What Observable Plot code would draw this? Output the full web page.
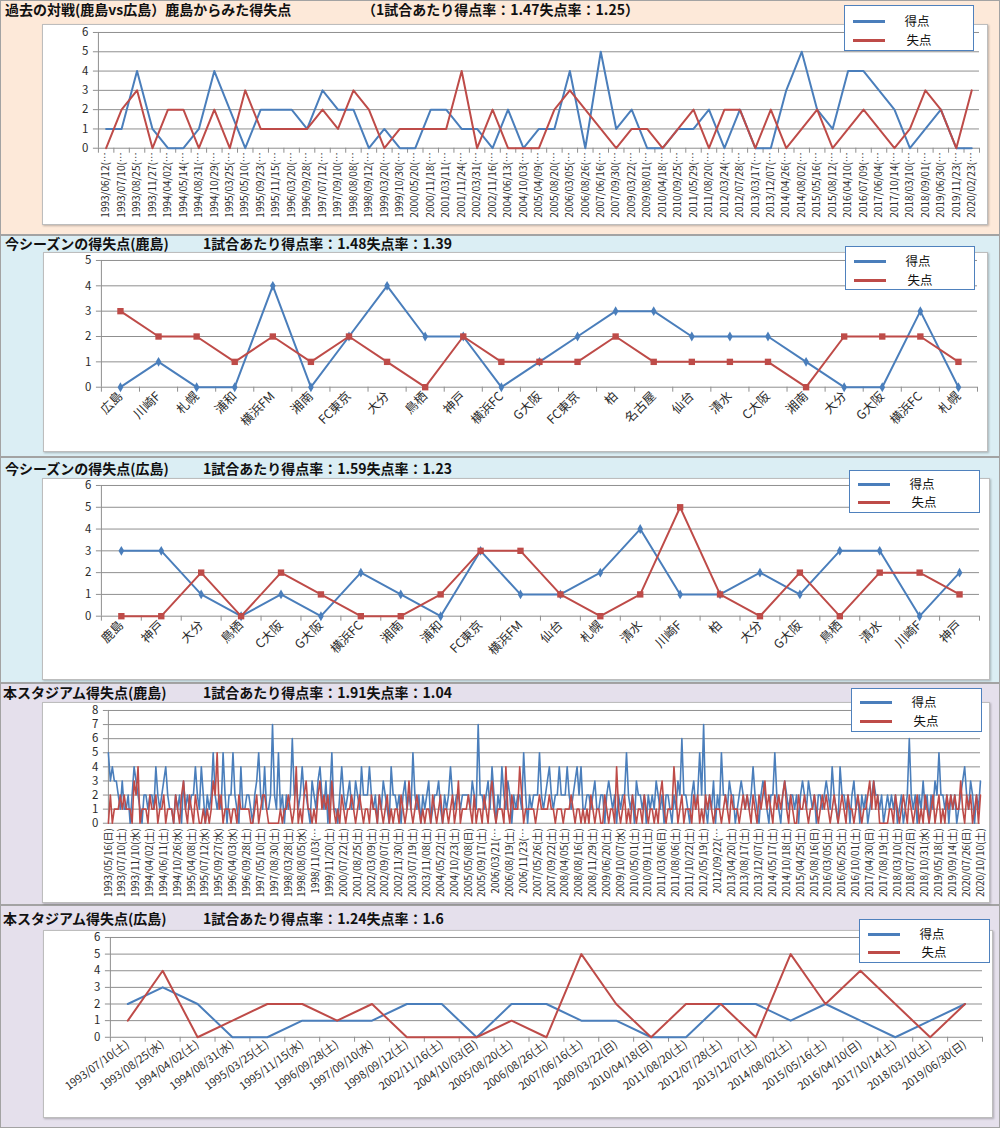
<!DOCTYPE html>
<html><head><meta charset="utf-8">
<script src="https://cdn.jsdelivr.net/npm/d3@7"></script>
<script src="https://cdn.jsdelivr.net/npm/@observablehq/plot@0.6"></script>
<style>
body{margin:0;width:1000px;height:1128px;position:relative;font-family:"Noto Sans CJK JP","Noto Sans",sans-serif;background:#fff;overflow:hidden}
.panel{position:absolute;left:0;width:1000px;box-sizing:border-box;border:1px solid #a3a3a3}
.title{position:absolute;font-weight:bold;font-size:14px;line-height:14px;white-space:nowrap;color:#111;z-index:3}
.box{position:absolute;background:#fff;border:1px solid #bdbdbd;box-sizing:border-box;box-shadow:1px 1px 2px rgba(0,0,0,0.25)}
.box svg{position:absolute;left:-1px;top:-1px;overflow:visible}
.legend{position:absolute;background:#fff;border:1.5px solid #4f81bd;box-sizing:border-box;z-index:4}
.sw{position:absolute;left:8px;width:32px;height:3px}
.lt{position:absolute;left:52px;width:40px;text-align:center;font-size:12.5px;line-height:14px;color:#111}
</style></head>
<body>
<div id="root"></div>
<script>
// ---------- Panel 1: 過去の対戦 ----------
const p1Dates = ["1993/06/12(…","1993/07/10(…","1993/08/25(…","1993/11/27(…","1994/04/02(…","1994/05/14(…","1994/08/31(…","1994/10/29(…","1995/03/25(…","1995/05/10(…","1995/09/23(…","1995/11/15(…","1996/03/20(…","1996/09/28(…","1997/07/12(…","1997/09/10(…","1998/08/08(…","1998/09/12(…","1999/03/20(…","1999/10/30(…","2000/05/20(…","2000/11/18(…","2001/03/11(…","2001/11/24(…","2002/03/31(…","2002/11/16(…","2004/06/13(…","2004/10/03(…","2005/04/09(…","2005/08/20(…","2006/03/05(…","2006/08/26(…","2007/06/16(…","2007/09/30(…","2009/03/22(…","2009/08/01(…","2010/04/18(…","2010/09/25(…","2011/05/29(…","2011/08/20(…","2012/03/24(…","2012/07/28(…","2013/03/17(…","2013/12/07(…","2014/04/26(…","2014/08/02(…","2015/05/16(…","2015/08/12(…","2016/04/10(…","2016/07/09(…","2017/06/04(…","2017/10/14(…","2018/03/10(…","2018/09/01(…","2019/06/30(…","2019/11/23(…","2020/02/23(…"];
const p1Goals    = [1,1,4,1,0,0,1,4,2,0, 2,2,2,1,3,2,2,0,1,0, 0,2,2,1,1,0,2,0,1,1, 4,0,5,1,2,0,0,1,1,2, 0,2,0,0,3,5,2,1,4,4, 3,2,0,1,2,0,0];
const p1Conceded = [0,2,3,0,2,2,0,2,0,3, 1,1,1,1,2,1,3,2,0,1, 1,1,1,4,0,2,0,0,0,2, 3,2,1,0,1,1,0,1,2,0, 2,2,0,2,0,1,2,0,1,2, 1,0,1,3,2,0,3];

// ---------- Panel 2: 今シーズン(鹿島) ----------
const p2Teams    = ["広島","川崎F","札幌","浦和","横浜FM","湘南","FC東京","大分","鳥栖","神戸","横浜FC","G大阪","FC東京","柏","名古屋","仙台","清水","C大阪","湘南","大分","G大阪","横浜FC","札幌"];
const p2Goals    = [0,1,0,0,4,0,2,4,2,2,0,1,2,3,3,2,2,2,1,0,0,3,0];
const p2Conceded = [3,2,2,1,2,1,2,1,0,2,1,1,1,2,1,1,1,1,0,2,2,2,1];

// ---------- Panel 3: 今シーズン(広島) ----------
const p3Teams    = ["鹿島","神戸","大分","鳥栖","C大阪","G大阪","横浜FC","湘南","浦和","FC東京","横浜FM","仙台","札幌","清水","川崎F","柏","大分","G大阪","鳥栖","清水","川崎F","神戸"];
const p3Goals    = [3,3,1,0,1,0,2,1,0,3,1,1,2,4,1,1,2,1,3,3,0,2];
const p3Conceded = [0,0,2,0,2,1,0,0,1,3,3,1,0,1,5,1,0,2,0,2,2,1];

// ---------- Panel 4: 本スタジアム(鹿島) ----------
const p4Labels = ["1993/05/16(日)","1993/07/10(土)","1993/11/10(水)","1994/04/02(土)","1994/06/11(土)","1994/10/26(水)","1995/04/08(土)","1995/07/12(水)","1995/09/27(水)","1996/04/03(水)","1996/09/28(土)","1997/05/10(土)","1997/08/30(土)","1998/03/28(土)","1998/08/05(水)","1998/11/03(…","1999/11/20(土)","2000/07/22(土)","2001/08/25(土)","2002/03/09(土)","2002/09/07(土)","2002/11/30(土)","2003/07/19(土)","2003/11/08(土)","2004/05/22(土)","2004/10/23(土)","2005/05/08(日)","2005/09/17(土)","2006/03/21(…","2006/08/19(土)","2006/11/23(…","2007/05/26(土)","2007/09/22(土)","2008/04/05(土)","2008/08/16(土)","2008/11/29(土)","2009/06/20(土)","2009/10/07(水)","2010/05/01(土)","2010/09/11(土)","2011/03/06(日)","2011/08/06(土)","2011/10/22(土)","2012/05/19(土)","2012/09/22(…","2013/04/20(土)","2013/08/17(土)","2013/12/07(土)","2014/05/17(土)","2014/10/18(土)","2015/04/25(土)","2015/08/16(日)","2016/03/05(土)","2016/06/25(土)","2016/10/01(土)","2017/04/30(日)","2017/08/19(土)","2018/03/10(土)","2018/07/22(日)","2018/10/31(水)","2019/05/18(土)","2019/09/14(土)","2020/07/26(日)","2020/10/10(土)"];
const p4LabelStep = 7;
const p4Goals = [
5,3,4,3,3,2,1, 3,1,1,2,0,2,4, 3,2,1,0,2,2,1, 2,2,1,4,2,1,2, 3,4,2,1,1,0,2, 1,2,0,3,1,2,
1,2,2,4,2,1,4, 2,0,2,1,2,5,2, 1,2,1,5,2,0,2, 2,5,2,1,0,4,1, 1,2,2,1,0,2,3, 5,2,1,4,1,1,2,
7,2,1,5,1,2,0, 2,1,2,6,2,3,1, 2,4,2,2,1,0,3, 2,1,3,4,2,1, 3,0,2,5,1,1,0, 2,4,2,1,2,3,1,
1,3,2,1,4,2,2, 2,4,2,1,2,0,2, 1,3,2,1,0,4,2, 2,1,2,0,2,3,1, 2,1,5,2,1,2,0, 2,1,2,3,0,1,2,
2,3,1,0,2,1,2, 4,2,1,2,2,1,2, 2,2,2,1,3,2, 1,7,2,2,1,2,3, 1,4,2,0,2,1,4, 2,1,3,2,0,2,1,
2,2,1,5,2,0,2, 1,2,2,2,5,2,1, 2,3,4,2,1,2,2, 4,2,2,2,4,2,1, 2,3,4,2,4,1,1, 2,2,1,2,3,1,1,
2,2,0,2,3,2, 1,2,0,2,1,2,2, 5,2,1,2,0,3,2, 2,1,2,0,2,1,2, 1,3,2,1,2,0,2, 2,1,0,2,1,3,2,
6,2,2,1,0,2,3, 1,2,5,2,7,1,0, 2,1,3,0,2,1,5, 2,2,1,3,2,2,0, 1,2,3,2,1,2, 1,2,4,2,1,0,2,
3,2,1,0,2,2,5, 2,1,0,2,3,2,1, 2,2,1,2,0,2,3, 2,1,3,2,1,2,0, 2,2,1,2,3,2,1, 4,2,1,0,4,2,2,
1,2,0,2,3,1,2, 0,2,1,2,0,1,2, 3,2,2,1,2,0,1, 2,1,2,1,2,0, 1,2,0,1,2,6,2, 1,2,0,2,1,3,1,
2,0,2,1,3,2,5, 2,2,1,2,0,2,1, 2,0,1,2,3,4,2, 1,3,2,0,2,1,3];
const p4Conceded = [
0,2,0,1,1,1,2, 1,2,1,1,1,0,3, 2,4,0,1,1,1,0, 2,1,1,2,0,1,1, 2,0,1,1,1,0,2, 1,0,2,3,1,0,
2,1,0,2,1,0,0, 1,0,1,0,1,3,2, 5,1,2,0,1,1,1, 0,1,1,0,2,1,1, 1,1,1,0,0,1,2, 0,1,2,2,1,0,0,
0,0,0,0,1,0,1, 1,2,1,0,1,4,0, 1,0,2,3,1,1,0, 1,0,2,3,1,2, 1,2,0,3,1,0,1, 0,2,1,0,1,1,2,
1,0,1,2,1,0,1, 1,0,2,1,1,0,2, 1,0,1,2,0,1,0, 1,1,0,2,1,0,1, 3,1,0,1,2,1,0, 1,0,1,1,0,2,1,
0,1,2,0,1,1,0, 1,2,0,1,3,0,1, 1,1,2,1,0,2, 0,1,1,0,2,1,0, 2,3,1,0,1,1,1, 0,4,1,0,2,1,1,
1,4,2,0,1,1,1, 1,1,0,1,2,1,1, 1,1,2,1,1,0,1, 1,1,0,1,1,1,2, 1,0,1,1,0,1,0, 1,0,2,1,0,1,1,
0,0,2,1,0,1, 1,0,4,1,0,1,2, 0,1,0,2,1,0,1, 1,0,2,1,0,1,1, 0,1,0,2,3,1,0, 1,1,1,4,2,0,1,
2,0,1,1,1,0,2, 1,2,0,1,0,2,1, 2,1,0,1,1,1,0, 1,2,1,0,2,1,1, 1,0,1,2,1,2, 1,0,2,1,0,2,1,
2,3,1,2,1,0,2, 1,2,1,2,3,1,0, 2,1,0,0,2,1,1, 2,1,0,1,1,2,1, 0,1,2,1,2,1,0, 1,2,1,0,1,2,1,
0,2,1,1,0,1,2, 1,0,1,1,2,3,1, 3,1,2,0,0,0,0, 0,1,1,0,2,1, 0,1,2,1,0,2,1, 0,1,2,0,1,0,2,
1,0,1,2,0,1,2, 0,1,0,2,1,2,1, 2,1,1,3,1,0,2, 1,2,0,1,2,0,2];

// ---------- Panel 5: 本スタジアム(広島) ----------
const p5Dates    = ["1993/07/10(土)","1993/08/25(水)","1994/04/02(土)","1994/08/31(水)","1995/03/25(土)","1995/11/15(水)","1996/09/28(土)","1997/09/10(水)","1998/09/12(土)","2002/11/16(土)","2004/10/03(日)","2005/08/20(土)","2006/08/26(土)","2007/06/16(土)","2009/03/22(日)","2010/04/18(日)","2011/08/20(土)","2012/07/28(土)","2013/12/07(土)","2014/08/02(土)","2015/05/16(土)","2016/04/10(日)","2017/10/14(土)","2018/03/10(土)","2019/06/30(日)"];
const p5Goals    = [2,3,2,0,0,1,1,1,2,2,0,2,2,1,1,0,0,2,2,1,2,1,0,1,2];
const p5Conceded = [1,4,0,1,2,2,1,2,0,0,0,1,0,5,2,0,2,2,0,5,2,4,2,0,2];

const seriesNames = ["得点","失点"];

// ---------- drawing ----------
const BLUE = "#4a7ebb", RED = "#be4b48", GRID = "#8f8f8f", TXT = "#2b2b2b";
const FONT = '"Noto Sans CJK JP","Noto Sans",sans-serif';
const root = document.getElementById("root");

function div(cls, style, text) {
  const d = document.createElement("div");
  d.className = cls;
  Object.assign(d.style, style);
  if (text != null) d.textContent = text;
  root.appendChild(d);
  return d;
}

function legend(left, top, w, h, y1, y2) {
  const L = div("legend", {left: left + "px", top: top + "px", width: w + "px", height: h + "px"});
  [[BLUE, y1 - 1, seriesNames[0], 0], [RED, y2 + 2, seriesNames[1], 2]].forEach(([c, y, t, dx]) => {
    const s = document.createElement("div"); s.className = "sw";
    Object.assign(s.style, {top: (y - 1.5) + "px", background: c});
    L.appendChild(s);
    const tx = document.createElement("div"); tx.className = "lt";
    Object.assign(tx.style, {top: (y - 7.5) + "px", left: (52 + dx) + "px"});
    tx.textContent = t;
    L.appendChild(tx);
  });
}

function chart(c) {
  const box = div("box", {left: c.left + "px", top: c.top + "px", width: c.w + "px", height: c.h + "px"});
  const n = c.goals.length;
  const xDomain = c.between ? [-0.5, n - 0.5] : [0, n - 1];
  const yt = d3.range(0, c.ymax + 1);
  const tickIdx = c.tickIdx || d3.range(n);
  const labelOf = new Map(tickIdx.map((v, k) => [v, c.labels[c.tickIdx ? k : v]]));
  const marks = [
    Plot.gridY(yt, {stroke: GRID, strokeOpacity: 1, strokeWidth: 1}),
    Plot.ruleX([xDomain[0]], {stroke: GRID, strokeWidth: 1}),
    Plot.axisY(yt, {tickSize: 5, tickPadding: 5, fontSize: 11.5, stroke: GRID, fill: TXT, label: null})
  ];
  if (c.between) {
    marks.push(Plot.axisX(d3.range(n + 1).map(i => i - 0.5), {tickSize: 5, tickFormat: () => "", stroke: GRID, label: null}));
  }
  marks.push(Plot.axisX(tickIdx, {tickSize: 0, tickPadding: c.pad, tickRotate: c.rotate, fontSize: c.fs, fill: TXT, tickFormat: v => labelOf.get(v), label: null}));
  marks.push(Plot.line(c.goals, {x: (d, i) => i, y: d => d, stroke: BLUE, strokeWidth: c.sw}));
  if (c.markers) marks.push(Plot.dot(c.goals, {x: (d, i) => i, y: d => d, symbol: "diamond", r: 3, fill: BLUE}));
  marks.push(Plot.line(c.conceded, {x: (d, i) => i, y: d => d, stroke: RED, strokeWidth: c.sw}));
  if (c.markers) marks.push(Plot.dot(c.conceded, {x: (d, i) => i, y: d => d, symbol: "square", r: 3.6, fill: RED}));
  const svg = Plot.plot({
    width: c.w, height: c.h,
    marginLeft: c.ml, marginRight: c.mr, marginTop: c.mt, marginBottom: c.mb,
    x: {type: "linear", domain: xDomain, axis: null},
    y: {domain: [0, c.ymax], axis: null},
    style: {background: "transparent", fontFamily: FONT, overflow: "visible"},
    marks
  });
  box.appendChild(svg);
}

// panel backgrounds
div("panel", {top: "0px", height: "235px", background: "#fde9d9"});
div("panel", {top: "235px", height: "222px", background: "#dbeef4"});
div("panel", {top: "457px", height: "226px", background: "#dbeef4"});
div("panel", {top: "683px", height: "222px", background: "#e5e0ec"});
div("panel", {top: "905px", height: "223px", background: "#e5e0ec"});

// panel 1
div("title", {left: "5px", top: "2px"}, "過去の対戦(鹿島vs広島）鹿島からみた得失点");
div("title", {left: "362px", top: "2px"}, "（1試合あたり得点率：1.47失点率：1.25）");
chart({left: 42, top: 24, w: 946, h: 201, ml: 56, mr: 7, mt: 8, mb: 77, ymax: 6,
  goals: p1Goals, conceded: p1Conceded, labels: p1Dates, between: true, rotate: -90, fs: 10, pad: 4, sw: 2});
legend(844, 5, 130, 46, 16, 32);

// panel 2
div("title", {left: "5px", top: "236px"}, "今シーズンの得失点(鹿島)");
div("title", {left: "203px", top: "236px"}, "1試合あたり得点率：1.48失点率：1.39");
chart({left: 43, top: 252, w: 945, h: 200, ml: 58, mr: 9, mt: 8, mb: 65, ymax: 5,
  goals: p2Goals, conceded: p2Conceded, labels: p2Teams, between: true, rotate: -45, fs: 12.5, pad: 7, sw: 2, markers: true});
legend(845, 246, 130, 44, 15, 31);

// panel 3
div("title", {left: "5px", top: "461px"}, "今シーズンの得失点(広島)");
div("title", {left: "203px", top: "461px"}, "1試合あたり得点率：1.59失点率：1.23");
chart({left: 42, top: 478, w: 948, h: 202, ml: 59, mr: 9, mt: 7, mb: 64, ymax: 6,
  goals: p3Goals, conceded: p3Conceded, labels: p3Teams, between: true, rotate: -45, fs: 12.5, pad: 7, sw: 2, markers: true});
legend(849, 470, 131, 43, 14, 29);

// panel 4
div("title", {left: "3px", top: "685px"}, "本スタジアム得失点(鹿島)");
div("title", {left: "203px", top: "685px"}, "1試合あたり得点率：1.91失点率：1.04");
chart({left: 42, top: 702, w: 948, h: 201, ml: 66, mr: 8, mt: 8, mb: 80, ymax: 8,
  goals: p4Goals, conceded: p4Conceded, labels: p4Labels,
  tickIdx: p4Labels.map((_, k) => k * p4LabelStep), between: false, rotate: -90, fs: 10, pad: 5, sw: 1.6});
legend(851, 688, 131, 44, 14, 30);

// panel 5
div("title", {left: "3px", top: "911px"}, "本スタジアム得失点(広島)");
div("title", {left: "203px", top: "911px"}, "1試合あたり得点率：1.24失点率：1.6");
chart({left: 43, top: 930, w: 950, h: 188, ml: 67, mr: 9, mt: 7, mb: 81, ymax: 6,
  goals: p5Goals, conceded: p5Conceded, labels: p5Dates, between: true, rotate: -36, fs: 11, pad: 6, sw: 2});
legend(859, 919, 131, 44, 15, 30);
</script>
</body></html>
